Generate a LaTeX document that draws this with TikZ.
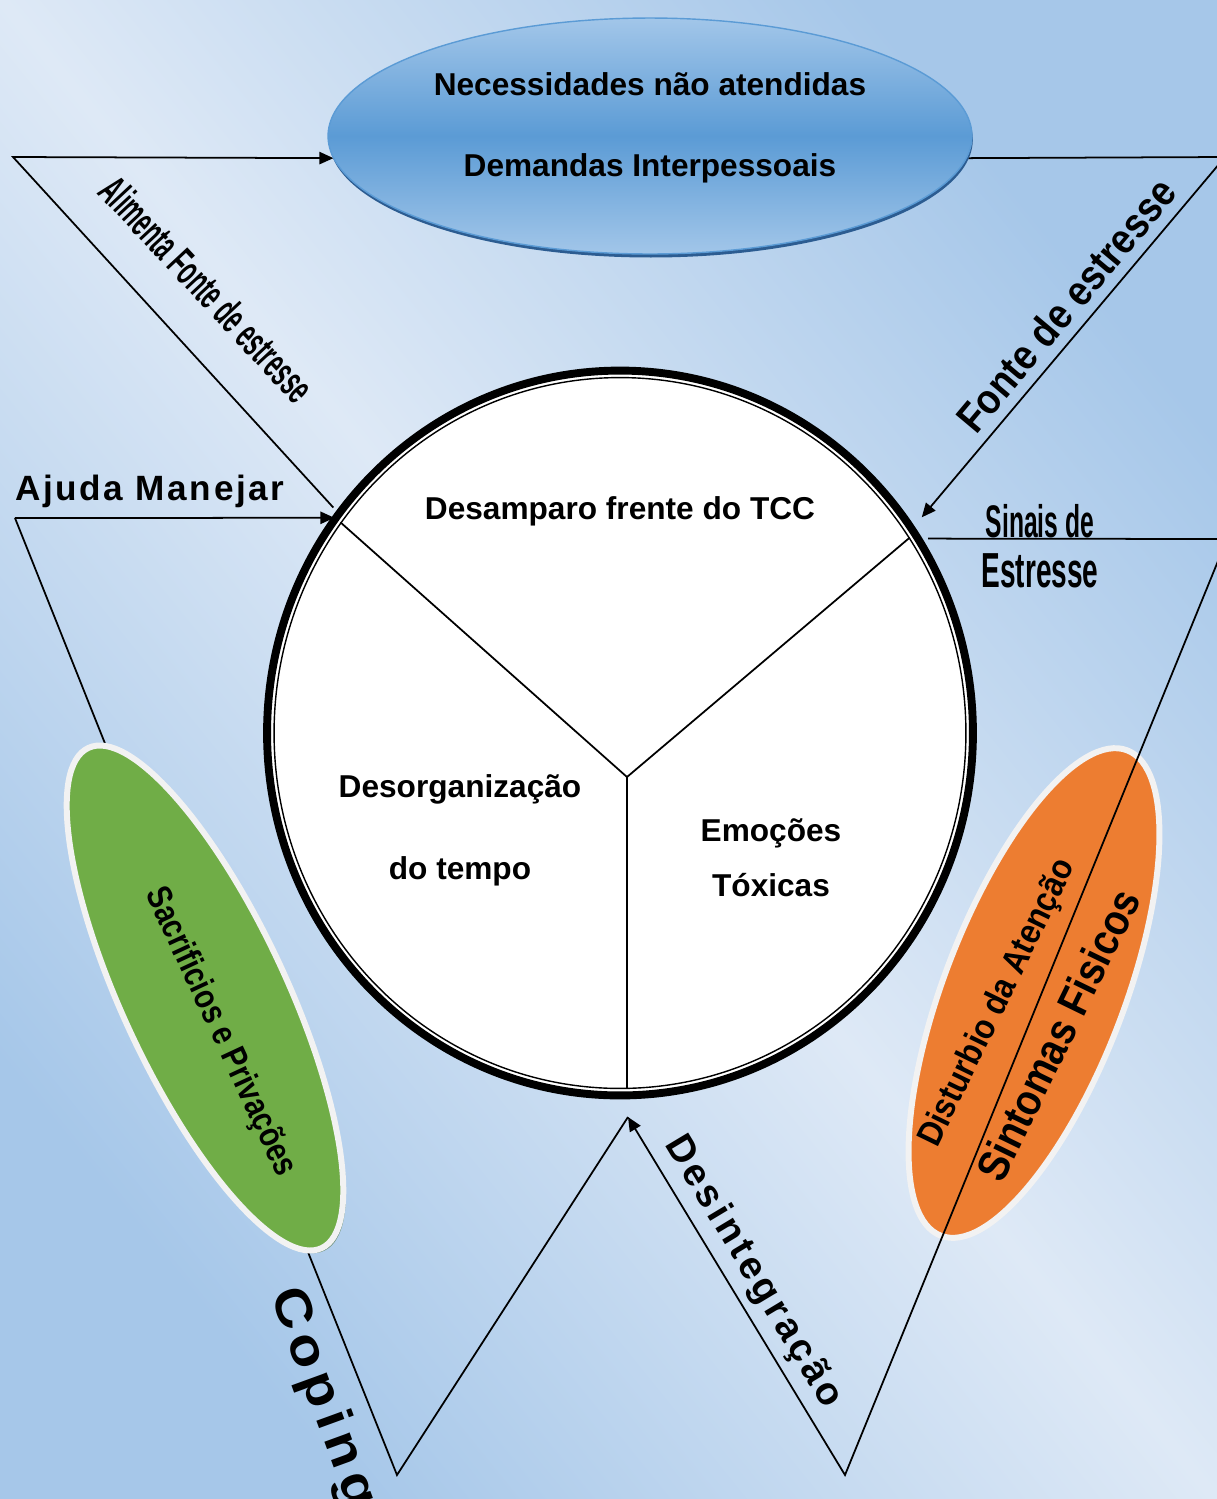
\documentclass[tikz,border=0pt]{standalone}
\usepackage{fontspec}
\setmainfont{Liberation Sans}
\usepackage{xcolor}
\usepackage{tikz}
\usetikzlibrary{arrows.meta, positioning, shapes.geometric, shadows}
\definecolor{fundoclaro}{RGB}{222,233,246}
\definecolor{fundoescuro}{RGB}{166,199,233}
\definecolor{azulclaro}{RGB}{162,198,233}
\definecolor{azulmedio}{RGB}{91,155,213}
\definecolor{azulsombra}{RGB}{44,92,145}
\definecolor{verde}{RGB}{112,173,71}
\definecolor{laranja}{RGB}{237,125,49}
\definecolor{borda}{RGB}{242,242,242}

\begin{document}
\begin{tikzpicture}[
    x=0.02cm, y=-0.02cm,
    line/.style={draw=black, line width=1pt},
    arrow/.style={line, -{Triangle[length=8pt, width=7pt]}},
    texto/.style={font=\bfseries\fontsize{18}{22}\selectfont, anchor=base, inner sep=0pt},
    tira/.style={inner sep=0pt},
    oval/.style={ellipse, draw=borda, line width=3.4pt, inner sep=0pt}
]

% ---------------- Fundo ----------------
\shade[top color=fundoescuro, bottom color=fundoescuro, middle color=fundoclaro,
       shading angle=-51] (0,0) rectangle (1217,1499);
\useasboundingbox (0,0) rectangle (1217,1499);
\clip (0,0) rectangle (1217,1499);

% ---------------- Sintomas ----------------
\node[oval, fill=laranja, rotate=69, minimum width=10.4cm, minimum height=3.6cm]
      (sint) at (1034,993) {};

% ---------------- Linhas ----------------
\node[ellipse, minimum width=14.16cm, minimum height=14.54cm, inner sep=0pt] (core) at (620,733) {};
\node[ellipse, minimum width=12.88cm, minimum height=4.72cm, inner sep=0pt] (needs) at (650,136) {};

\coordinate (ce) at (13,157);
\coordinate (ca) at (15,518);
\coordinate (cb) at (397,1475);
\coordinate (apex) at (628,1117);
\coordinate (cd) at (1225,157);
\coordinate (cs) at (1227,539);
\coordinate (cv) at (845,1475);

\draw[arrow, shorten <=4pt] (core.142) -- (ce) -- (needs.184);
\draw[arrow] (ca) -- (core.143);
\draw[line] (ca) -- (cb) -- (apex);
\draw[arrow, shorten >=8pt] (needs.-4) -- (cd) -- (core.35);
\draw[arrow, shorten <=5pt] (core.33) -- (cs) -- (cv) -- (apex);

% ---------------- Sacrificios ----------------
\node[oval, fill=verde, rotate=-65, minimum width=11.04cm, minimum height=3.28cm,
      drop shadow={shadow xshift=1.5pt, shadow yshift=-1.5pt, fill=black!40!verde, opacity=0.6}]
      (sacr) at (205,998) {};

% ---------------- Circulo ----------------
\node[ellipse, draw, line width=4.5pt, fill=white, minimum width=14.12cm,
      minimum height=14.5cm, inner sep=0pt] (circ) at (620,733) {};
\node[ellipse, draw, line width=0.8pt, minimum width=13.84cm,
      minimum height=14.22cm, inner sep=0pt] (circin) at (620,733) {};
\coordinate (hub) at (627,777);
\draw[line] (hub) -- (circin.143);
\draw[line] (hub) -- (circin.34);
\draw[line] (hub) -- (hub |- circin.south);

\node[texto] (tdes) at (620,519) {Desamparo frente do TCC};
\node[texto] (tdor) at (460,797) {Desorganização};
\node[texto] (ttem) at (460,879) {do tempo};
\node[texto] (temo) at (771,841) {Emoções};
\node[texto] (ttox) at (771,896) {Tóxicas};

% ---------------- Necessidades ----------------
\node[ellipse, draw=azulmedio, thick, top color=azulclaro, bottom color=azulclaro,
      middle color=azulmedio, minimum width=12.88cm, minimum height=4.72cm, inner sep=0pt,
      drop shadow={shadow xshift=0.5pt, shadow yshift=-2pt, fill=azulsombra, opacity=1}]
      (nec) at (650,136) {};
\node[texto] (tnec) at (650,95) {Necessidades não atendidas};
\node[texto] (tdem) at (650,176) {Demandas Interpessoais};

% ---------------- Rotulos ----------------
\node[tira, anchor=base west, font=\bfseries\fontsize{20}{24}\selectfont\addfontfeatures{LetterSpace=7.5}]
      (tajuda) at (15,500) {Ajuda Manejar};
\node[tira, rotate=-47, xscale=0.53, font=\bfseries\fontsize{24}{28}\selectfont]
      (talim) at (207,289) {Alimenta Fonte de estresse};
\node[tira, rotate=50, xscale=0.88, font=\bfseries\fontsize{24}{28}\selectfont]
      (tfonte) at (1066,305) {Fonte de estresse};
\node[tira, anchor=base, xscale=0.54, font=\bfseries\fontsize{26}{30}\selectfont]
      (tsinais) at (1040,537) {Sinais de};
\node[tira, anchor=base, xscale=0.57, font=\bfseries\fontsize{28}{32}\selectfont]
      (testr) at (1040,587) {Estresse};
\node[tira, rotate=-65, xscale=0.82, font=\bfseries\fontsize{20}{24}\selectfont]
      (tsacr) at (220,1032) {Sacrificios e Privações};
\node[tira, rotate=64, xscale=0.89, font=\bfseries\fontsize{20}{24}\selectfont]
      (tdist) at (998,1003) {Disturbio da Atenção};
\node[tira, rotate=64, xscale=0.88, font=\bfseries\fontsize{25}{30}\selectfont]
      (tsint) at (1058,1035) {Sintomas Fisicos};
\node[tira, rotate=-59, font=\bfseries\fontsize{22}{26}\selectfont\addfontfeatures{LetterSpace=9.5}]
      (tdesint) at (753,1272) {Desintegração};
\node[tira, rotate=-70, xscale=1.12, font=\bfseries\fontsize{29}{33}\selectfont\addfontfeatures{LetterSpace=12}]
      (tcoping) at (322,1398) {Coping};

\end{tikzpicture}
\end{document}
